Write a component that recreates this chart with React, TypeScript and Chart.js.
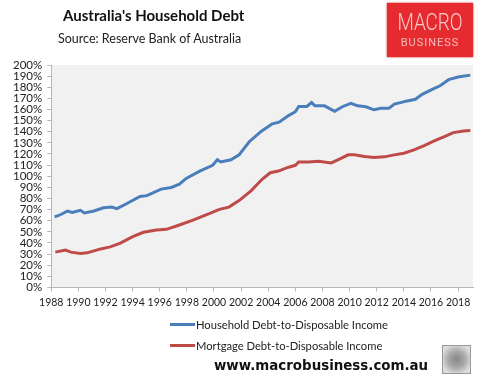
import React, { useEffect, useRef } from "react";
import { Chart, registerables } from "chart.js";

Chart.register(...registerables);

const xTickYears = [1988, 1990, 1992, 1994, 1996, 1998, 2000, 2002, 2004, 2006, 2008, 2010, 2012, 2014, 2016, 2018];

const householdYears = [1988.25, 1988.6, 1989.2, 1989.55, 1990.15, 1990.45, 1991.15, 1991.85, 1992.45, 1992.85, 1993.55, 1994.55, 1995.05, 1996.1, 1996.85, 1997.45, 1997.95, 1998.95, 1999.9, 2000.25, 2000.5, 2001.25, 2001.85, 2002.6, 2003.5, 2004.3, 2004.8, 2005.5, 2006.0, 2006.25, 2006.85, 2007.2, 2007.45, 2008.15, 2008.9, 2009.5, 2010.1, 2010.6, 2011.2, 2011.8, 2012.3, 2012.9, 2013.3, 2013.75, 2014.25, 2014.85, 2015.35, 2016.1, 2016.7, 2017.3, 2018.0, 2018.9];
const householdDebt = [63.4, 64.9, 68.7, 67.5, 69.3, 67, 68.7, 71.6, 72.2, 70.8, 75.2, 81.7, 82.5, 88.4, 89.9, 92.8, 98, 104.6, 109.8, 114.8, 112.8, 114.8, 119.2, 131, 140.5, 147.1, 148.6, 154.5, 158, 162.7, 162.7, 166.2, 163.3, 163.3, 158.3, 162.7, 165.6, 163.3, 162.4, 159.7, 161, 161, 164.8, 166.2, 167.7, 169.2, 173.6, 178, 181.5, 186.8, 189.2, 190.9];

const mortgageYears = [1988.3, 1989.05, 1989.45, 1990.15, 1990.65, 1991.65, 1992.35, 1993.1, 1994.05, 1994.8, 1995.75, 1996.5, 1997.45, 1998.45, 1999.65, 2000.4, 2001.1, 2001.85, 2002.75, 2003.55, 2004.15, 2004.75, 2005.5, 2006.0, 2006.25, 2006.95, 2007.7, 2008.65, 2009.25, 2009.9, 2010.35, 2011.1, 2011.8, 2012.55, 2013.3, 2014.0, 2014.75, 2015.5, 2016.2, 2016.95, 2017.65, 2018.4, 2018.9];
const mortgageDebt = [31.7, 33.5, 31.7, 30.6, 31.1, 34.6, 36.4, 39.9, 45.8, 49.6, 51.7, 52.2, 56.1, 60.5, 66.3, 70.2, 72.2, 78.1, 87, 97.2, 103.1, 104.6, 108.1, 109.8, 112.8, 112.8, 113.4, 111.9, 115.4, 119.2, 119.2, 117.8, 116.9, 117.4, 119.2, 120.7, 123.6, 127.5, 131.5, 135.4, 139.2, 140.7, 141];

const seriesLabels = ["Household Debt-to-Disposable Income", "Mortgage Debt-to-Disposable Income"];
const seriesColors = ["#4a7ebb", "#be4b48"];

const FONT = "Lato, 'Open Sans', sans-serif";

const plotBg = {
  id: "plotBg",
  beforeDraw(chart: any) {
    const { ctx, chartArea } = chart;
    ctx.save();
    ctx.fillStyle = "#f1f1f1";
    ctx.fillRect(chartArea.left, chartArea.top, chartArea.right - chartArea.left, chartArea.bottom - chartArea.top);
    ctx.restore();
  },
};

export default function App() {
  const ref = useRef<HTMLCanvasElement | null>(null);

  useEffect(() => {
    if (!ref.current) return;
    const chart = new Chart(ref.current, {
      type: "line",
      data: {
        datasets: [
          {
            label: seriesLabels[0],
            data: householdYears.map((x, i) => ({ x, y: householdDebt[i] })),
            borderColor: seriesColors[0],
            borderWidth: 3,
            pointRadius: 0,
            tension: 0,
          },
          {
            label: seriesLabels[1],
            data: mortgageYears.map((x, i) => ({ x, y: mortgageDebt[i] })),
            borderColor: seriesColors[1],
            borderWidth: 3,
            pointRadius: 0,
            tension: 0,
          },
        ],
      },
      options: {
        animation: false,
        responsive: false,
        events: [],
        layout: { padding: { left: 8, right: 8, top: 65, bottom: 71 } },
        plugins: { legend: { display: false }, tooltip: { enabled: false } },
        scales: {
          x: {
            type: "linear",
            min: 1988,
            max: 2019.1,
            afterBuildTicks: (axis: any) => {
              axis.ticks = xTickYears.map((v) => ({ value: v }));
            },
            grid: { drawOnChartArea: false, drawTicks: true, tickLength: 4, color: "#b8b8b8" },
            border: { display: true, color: "#b8b8b8" },
            ticks: {
              maxRotation: 0,
              autoSkip: false,
              padding: 5,
              color: "#222",
              font: { family: FONT, size: 10.5 },
              callback: (v: any) => String(v),
            },
          },
          y: {
            min: 0,
            max: 200,
            grid: { drawOnChartArea: false, drawTicks: true, tickLength: 4, color: "#b8b8b8" },
            border: { display: true, color: "#b8b8b8" },
            ticks: {
              stepSize: 10,
              autoSkip: false,
              padding: 5,
              color: "#222",
              font: { family: FONT, size: 11.5 },
              callback: (v: any) => v + "%",
            },
          },
        },
      },
      plugins: [plotBg],
    });
    return () => chart.destroy();
  }, []);

  return (
    <div style={{ position: "fixed", left: 0, top: 0, width: 481, height: 385, background: "#fff", overflow: "hidden", fontFamily: FONT }}>
      <canvas ref={ref} width={481} height={385} style={{ position: "absolute", left: 0, top: 0, width: 481, height: 385 }} />
      <div style={{ position: "absolute", left: 63, top: 6, fontWeight: 700, fontSize: 15, color: "#111", whiteSpace: "nowrap" }}>
        Australia's Household Debt
      </div>
      <div style={{ position: "absolute", left: 58, top: 31, fontSize: 12.5, color: "#222", whiteSpace: "nowrap" }}>
        Source: Reserve Bank of Australia
      </div>
      <div style={{ position: "absolute", left: 387, top: 3, width: 86, height: 54, background: "#e52b2f", boxShadow: "0 0 2px #c02020" }}>
        <div style={{ position: "absolute", left: 0, width: 86, top: 8, textAlign: "center", fontFamily: "Roboto, sans-serif", fontWeight: 300, fontSize: 23, lineHeight: "24px", color: "#f8c9c9", transform: "scaleX(0.82)" }}>
          MACRO
        </div>
        <div style={{ position: "absolute", left: 0, width: 86, top: 34, textAlign: "center", fontFamily: "Roboto, sans-serif", fontWeight: 400, fontSize: 11, lineHeight: "12px", letterSpacing: 1, color: "#f6bcbc" }}>
          BUSINESS
        </div>
      </div>
      {seriesLabels.map((label, i) => (
        <div key={label} style={{ position: "absolute", left: 170, top: 316 + i * 21, height: 16, display: "flex", alignItems: "center", whiteSpace: "nowrap" }}>
          <div style={{ width: 25, height: 3, background: seriesColors[i], marginRight: 1 }} />
          <span style={{ fontSize: 11.2, color: "#222" }}>{label}</span>
        </div>
      ))}
      <div style={{ position: "absolute", left: 214, top: 358, fontFamily: "'DejaVu Sans', sans-serif", fontWeight: 700, fontSize: 13.4, color: "#111", whiteSpace: "nowrap" }}>
        www.macrobusiness.com.au
      </div>
      <div style={{ position: "absolute", left: 442, top: 345, width: 27, height: 27, border: "1px solid #999", background: "radial-gradient(circle, #888 0%, #aaa 45%, #ddd 80%)" }} />
    </div>
  );
}
